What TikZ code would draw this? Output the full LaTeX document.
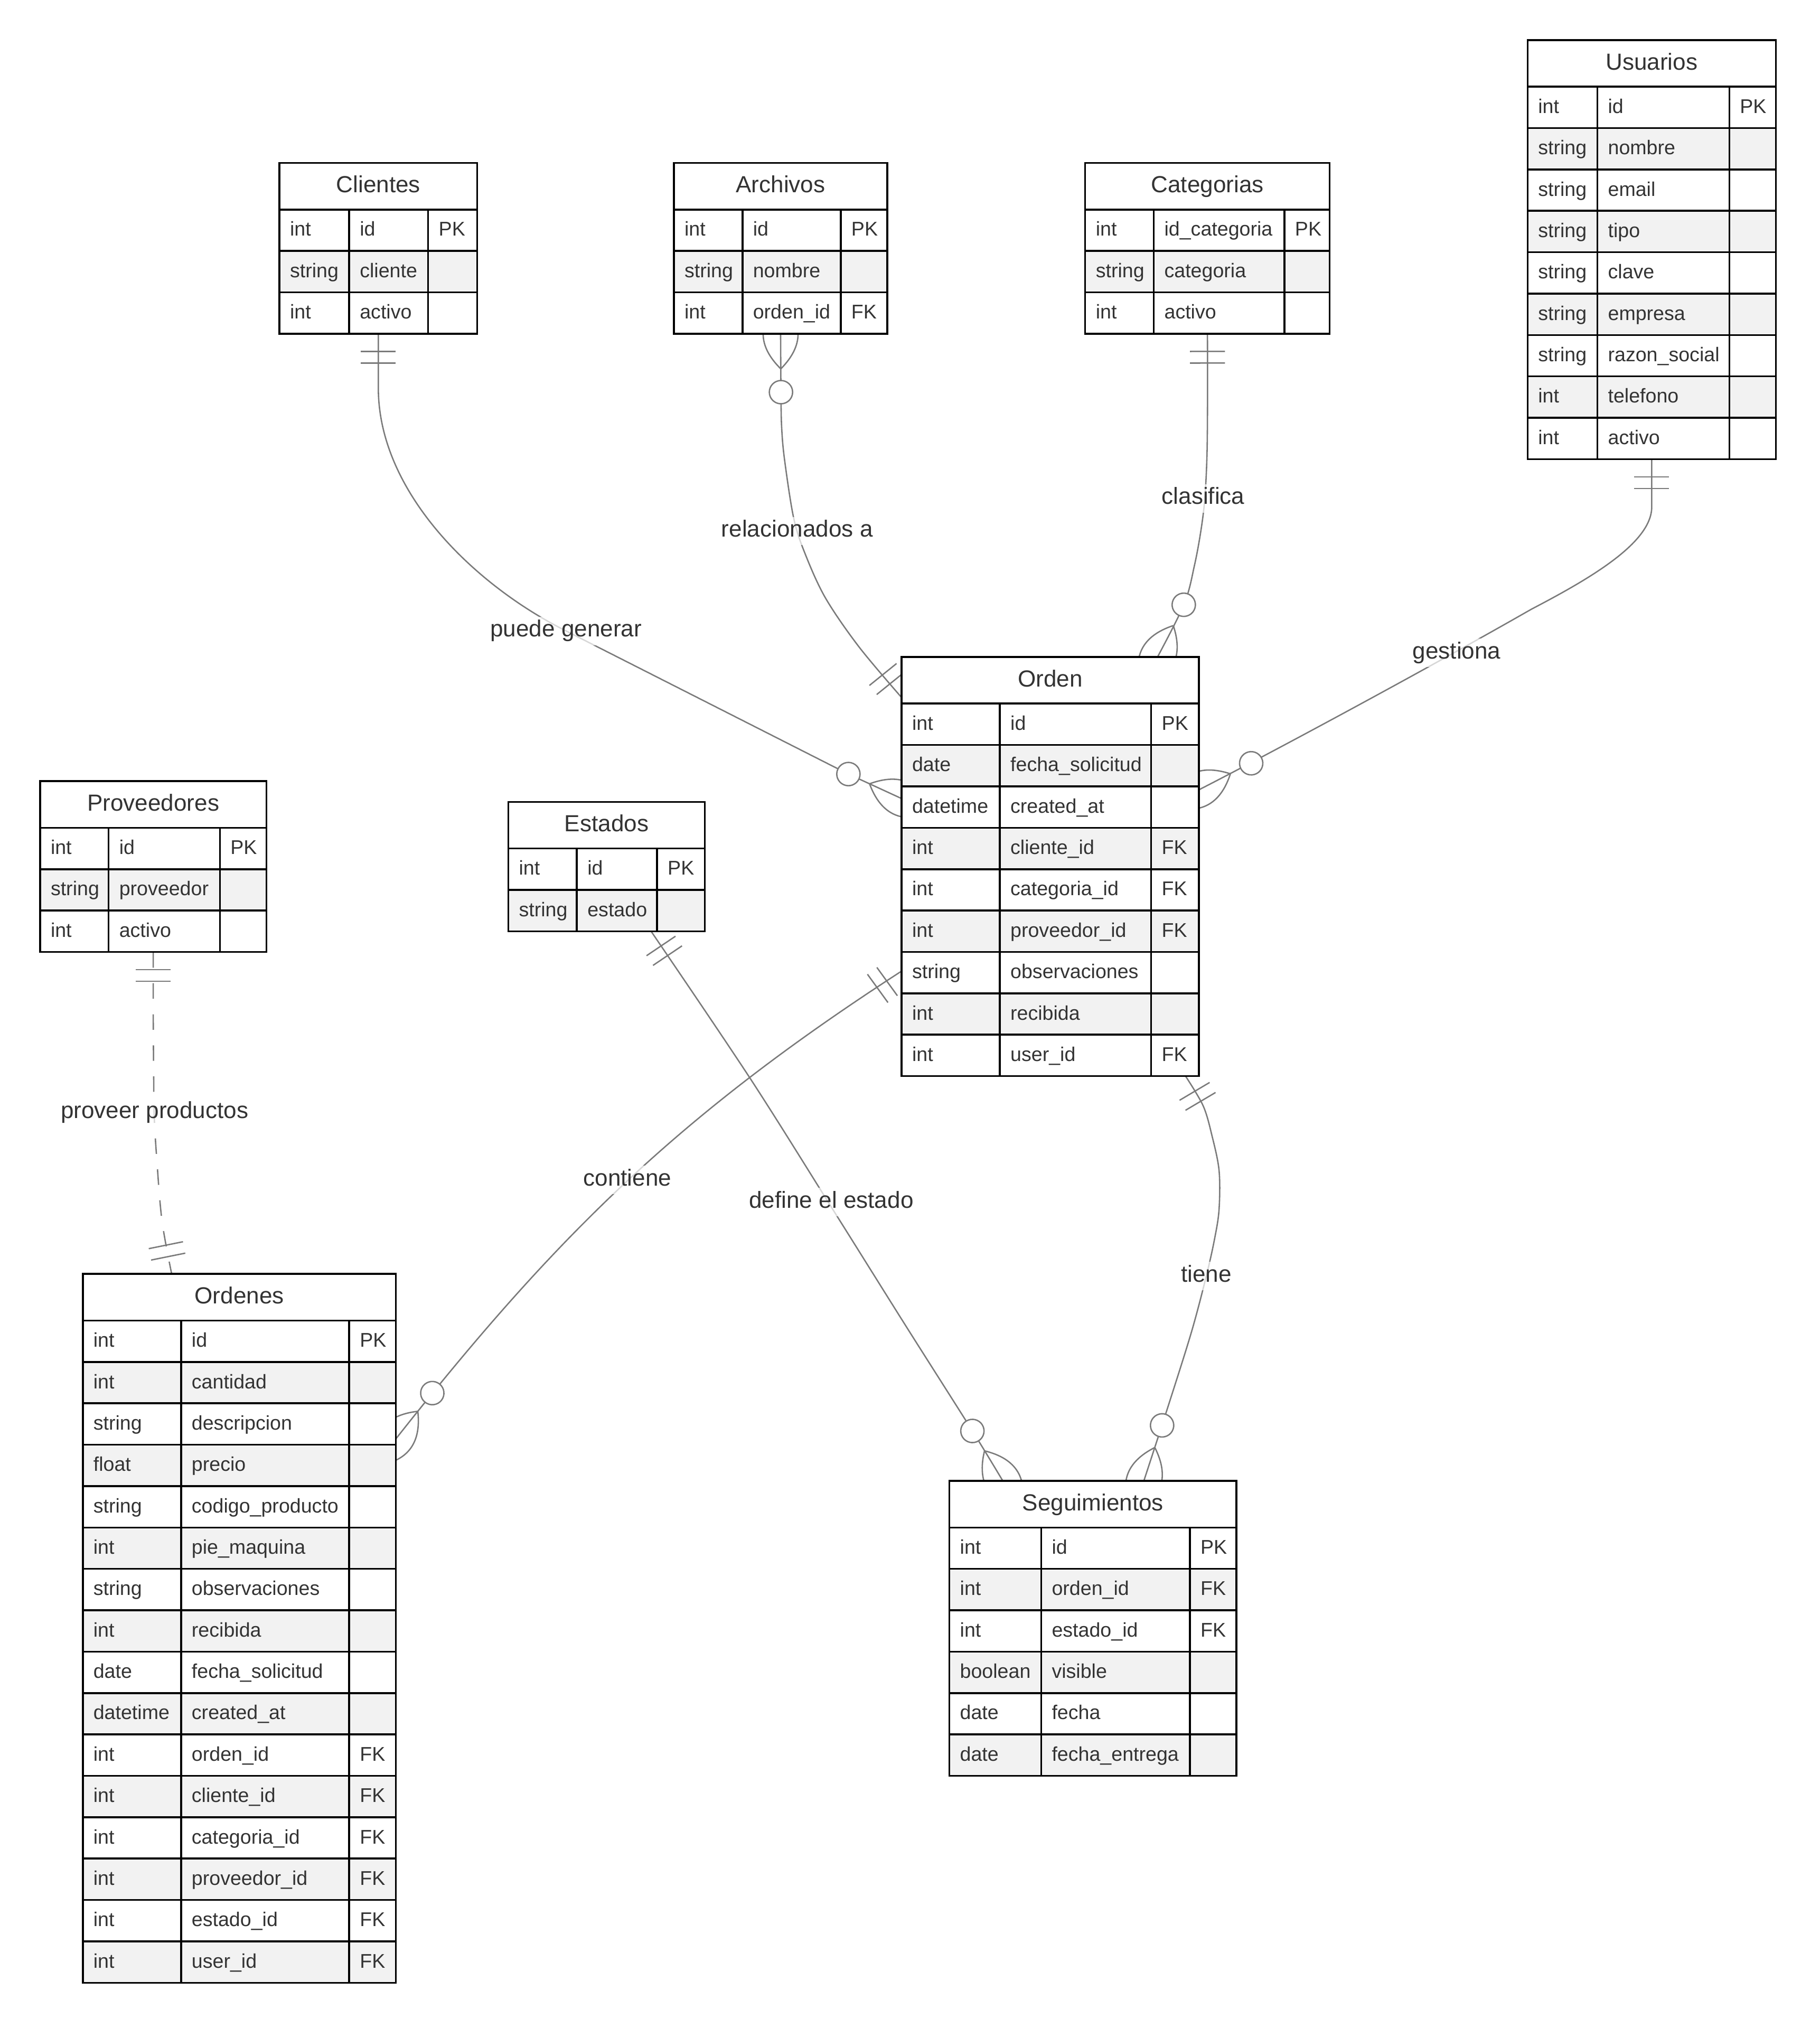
\documentclass[tikz,border=0pt]{standalone}
\usepackage{fontspec}
\setmainfont{Liberation Sans}
\usetikzlibrary{fit,calc}
\pgfdeclarelayer{links}
\pgfsetlayers{links,main}
\definecolor{ink}{HTML}{333333}
\definecolor{linkgrey}{HTML}{7A7A7A}
\definecolor{rowgrey}{HTML}{F2F2F2}
\tikzset{
  cellline/.style={draw=black, line width=1.45pt},
  attr/.style={anchor=base west, inner sep=0pt, text=ink, font=\fontsize{15.35}{18}\selectfont},
  etitle/.style={anchor=base, inner sep=0pt, text=ink, font=\fontsize{18}{21}\selectfont},
  link/.style={draw=linkgrey, line width=1.05pt},
  rellabel/.style={fill=white, fill opacity=0.7, text opacity=1, text=ink,
    font=\fontsize{18}{21}\selectfont, inner xsep=1pt, inner ysep=2.5pt,
    text height=13pt, text depth=4pt},
}
% entity table: name, left, type|name split, name|key split, right, top, title, rows
\newcommand\erentity[8]{%
  \draw[cellline, fill=white] (#2,#6) rectangle (#5,{#6+36});
  \node[etitle] at ({(#2+#5)/2},{#6+23}) {#7};
  \foreach \ty/\nm/\ky [count=\i] in {#8} {%
    \pgfmathsetmacro\ya{#6+36+(\i-1)*32}%
    \pgfmathsetmacro\yb{\ya+32}%
    \ifodd\i\relax \def\rowfill{white}\else \def\rowfill{rowgrey}\fi
    \draw[cellline, fill=\rowfill] (#2,\ya) rectangle (#3,\yb);
    \draw[cellline, fill=\rowfill] (#3,\ya) rectangle (#4,\yb);
    \draw[cellline, fill=\rowfill] (#4,\ya) rectangle (#5,\yb);
    \node[attr] at ({#2+8},{\ya+20.5}) {\ty};
    \node[attr] at ({#3+8},{\ya+20.5}) {\nm};
    \node[attr] at ({#4+8},{\ya+20.5}) {\ky};
    \xdef\lastbottom{\yb}%
  }
  \node[inner sep=0pt, fit={(#2,#6) ({#5},{\lastbottom})}] (#1) {};
}
% "exactly one" end: two bars across the line
\newcommand\onemark[2]{%
  \pgfmathanglebetweenpoints{\pgfpointanchor{#1}{center}}{\pgfpointanchor{#2}{center}}%
  \let\markangle\pgfmathresult
  \begin{scope}[shift={(#1)}, rotate=\markangle, x=1pt, y=1pt]
    \draw[link] (13.5,-13.5) -- (13.5,13.5) (22.5,-13.5) -- (22.5,13.5);
  \end{scope}}
% "zero or more" end: crow's foot and ring
\newcommand\manymark[2]{%
  \pgfmathanglebetweenpoints{\pgfpointanchor{#1}{center}}{\pgfpointanchor{#2}{center}}%
  \let\markangle\pgfmathresult
  \begin{scope}[shift={(#1)}, rotate=\markangle, x=1pt, y=1pt]
    \draw[link] (27,0) .. controls (9,18) and (-9,18) .. (-27,0);
    \draw[link] (27,0) .. controls (9,-18) and (-9,-18) .. (-27,0);
    \draw[link, fill=white] (45,0) circle[radius=9];
  \end{scope}}

\begin{document}
\begin{tikzpicture}[x=1pt, y=-1pt]
\useasboundingbox (0,0) rectangle (1407,1568);

% ---------- entities ----------
\erentity{cli}{216}{270}{331}{369}{126}{Clientes}
  {int/id/PK, string/cliente/{}, int/activo/{}}
\erentity{arc}{521}{574}{650}{686}{126}{Archivos}
  {int/id/PK, string/nombre/{}, int/orden\_id/FK}
\erentity{cat}{839}{892}{993}{1028}{126}{Categorias}
  {int/id\_categoria/PK, string/categoria/{}, int/activo/{}}
\erentity{usu}{1181}{1235}{1337}{1373}{31}{Usuarios}
  {int/id/PK, string/nombre/{}, string/email/{}, string/tipo/{}, string/clave/{},
   string/empresa/{}, string/razon\_social/{}, int/telefono/{}, int/activo/{}}
\erentity{prv}{31}{84}{170}{206}{604}{Proveedores}
  {int/id/PK, string/proveedor/{}, int/activo/{}}
\erentity{est}{393}{446}{508}{545}{620}{Estados}
  {int/id/PK, string/estado/{}}
\erentity{ord}{697}{773}{890}{927}{508}{Orden}
  {int/id/PK, date/fecha\_solicitud/{}, datetime/created\_at/{}, int/cliente\_id/FK,
   int/categoria\_id/FK, int/proveedor\_id/FK, string/observaciones/{}, int/recibida/{},
   int/user\_id/FK}
\erentity{ods}{64}{140}{270}{306}{985}{Ordenes}
  {int/id/PK, int/cantidad/{}, string/descripcion/{}, float/precio/{},
   string/codigo\_producto/{}, int/pie\_maquina/{}, string/observaciones/{},
   int/recibida/{}, date/fecha\_solicitud/{}, datetime/created\_at/{},
   int/orden\_id/FK, int/cliente\_id/FK, int/categoria\_id/FK, int/proveedor\_id/FK,
   int/estado\_id/FK, int/user\_id/FK}
\erentity{seg}{734}{805}{920}{956}{1145}{Seguimientos}
  {int/id/PK, int/orden\_id/FK, int/estado\_id/FK, boolean/visible/{},
   date/fecha/{}, date/fecha\_entrega/{}}

% ---------- attachment points on the tables ----------
\coordinate (cli-s) at (cli.south);
\coordinate (arc-s) at (arc.south);
\coordinate (cat-s) at (cat.south);
\coordinate (usu-s) at (usu.south);
\coordinate (prv-s) at (prv.south);
\coordinate (est-s) at ([xshift=34.5pt]est.south);
\coordinate (ord-n) at ([xshift=83pt]ord.north);
\coordinate (ord-w0) at ([yshift=131pt]ord.west);
\coordinate (ord-w1) at ([yshift=52.7pt]ord.west);
\coordinate (ord-w2) at ([yshift=-81pt]ord.west);
\coordinate (ord-e) at ([yshift=59.5pt]ord.east);
\coordinate (ord-s) at ([xshift=104.7pt]ord.south);
\coordinate (ods-n) at ([xshift=-52.3pt]ods.north);
\coordinate (ods-e) at ([yshift=146.7pt]ods.east);
\coordinate (seg-n1) at ([xshift=-69.8pt]seg.north);
\coordinate (seg-n2) at ([xshift=39.4pt]seg.north);

% points along the lines, next to the ends
\coordinate (cli-t) at (292.5,300);
\coordinate (arc-t) at (603.8,305);
\coordinate (cat-t) at (933.6,300);
\coordinate (usu-t) at (1277,392);
\coordinate (prv-t) at (118.5,790);
\coordinate (est-t) at (579.8,833.5);
\coordinate (ord-n-t) at (915.6,466.8);
\coordinate (ord-w0-t) at (676.6,514);
\coordinate (ord-w1-t) at (655.1,598.1);
\coordinate (ord-w2-t) at (580.8,835);
\coordinate (ord-e-t) at (967.6,590);
\coordinate (ord-s-t) at (930.2,855);
\coordinate (ods-n-t) at (128.3,963);
\coordinate (ods-e-t) at (335.1,1076);
\coordinate (seg-n1-t) at (751.5,1105.9);
\coordinate (seg-n2-t) at (898.7,1101.3);

% ---------- relationships ----------
\begin{pgfonlayer}{links}
  \fill[white] (0,0) rectangle (1407,1568);
  % Clientes - Orden
  \draw[link] (cli-s) -- (cli-t) .. controls (292.5,380) and (366,452) .. (437.6,487.8)
    -- (ord-w1-t) -- (ord-w1);
  % Archivos - Orden
  \draw[link] plot[smooth, tension=0.55] coordinates {(arc-s) (arc-t) (604.3,330)
    (606.5,355) (613.5,400) (622,427) (638,462) (664,500) (ord-w0)};
  % Categorias - Orden
  \draw[link] plot[smooth, tension=0.55] coordinates {(cat-s) (cat-t) (933.2,350)
    (931.5,385) (928.5,410) (923.5,437) (ord-n-t) (ord-n)};
  % Usuarios - Orden
  \draw[link] (usu-s) -- (usu-t) .. controls (1277,420) and (1228,448) .. (1184,471)
    .. controls (1100,519) and (981,583) .. (ord-e);
  % Proveedores - Ordenes
  \draw[link, dash pattern=on 12pt off 12pt] plot[smooth, tension=0.55] coordinates
    {(prv-s) (prv-t) (118.8,830) (119.2,862) (121.1,894.7) (125.2,943.6) (ods-n)};
  % Orden - Ordenes
  \draw[link] (ord-w2) .. controls (522,864) and (428,958) .. (ods-e);
  % Estados - Seguimientos
  \draw[link] plot[smooth, tension=0.55] coordinates {(est-s) (est-t)
    (645.7,938) (699.6,1024) (seg-n1-t) (seg-n1)};
  % Orden - Seguimientos
  \draw[link] plot[smooth, tension=0.55] coordinates {(ord-s) (ord-s-t) (937,878)
    (942.5,905) (942.5,935) (939,958) (932.6,986.7) (921.2,1029.7) (903.2,1087)
    (seg-n2)};

  % cardinality marks
  \onemark{cli-s}{cli-t}
  \onemark{cat-s}{cat-t}
  \onemark{usu-s}{usu-t}
  \onemark{prv-s}{prv-t}
  \onemark{ods-n}{ods-n-t}
  \onemark{ord-w0}{ord-w0-t}
  \onemark{ord-w2}{ord-w2-t}
  \onemark{est-s}{est-t}
  \onemark{ord-s}{ord-s-t}
  \manymark{arc-s}{arc-t}
  \manymark{ord-n}{ord-n-t}
  \manymark{ord-w1}{ord-w1-t}
  \manymark{ord-e}{ord-e-t}
  \manymark{ods-e}{ods-e-t}
  \manymark{seg-n1}{seg-n1-t}
  \manymark{seg-n2}{seg-n2-t}
\end{pgfonlayer}

% ---------- relationship labels ----------
\node[rellabel] (lb-gen) at (437.6,487.8) {puede generar};
\node[rellabel] (lb-rel) at (616.3,410.6) {relacionados a};
\node[rellabel] (lb-cla) at (930.2,385.3) {clasifica};
\node[rellabel] (lb-ges) at (1126.2,504.7) {gestiona};
\node[rellabel] (lb-pro) at (119.5,860) {proveer productos};
\node[rellabel] (lb-con) at (485.1,912.3) {contiene};
\node[rellabel] (lb-def) at (642.7,929.4) {define el estado};
\node[rellabel] (lb-tie) at (932.6,986.7) {tiene};
\end{tikzpicture}
\end{document}
